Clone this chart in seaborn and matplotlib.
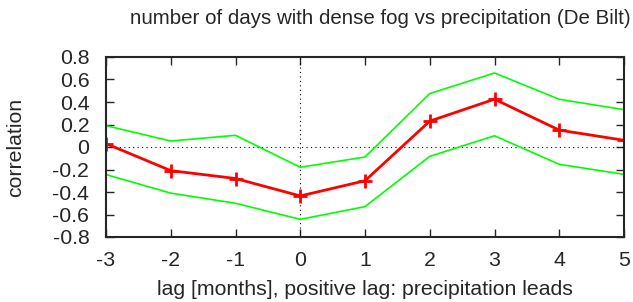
import numpy as np
import pandas as pd
import matplotlib
matplotlib.use('Agg')
import matplotlib.pyplot as plt
import seaborn as sns

lag = [-3, -2, -1, 0, 1, 2, 3, 4, 5]
corr = [0.03, -0.21, -0.28, -0.435, -0.30, 0.23, 0.425, 0.15, 0.06]
upper = [0.19, 0.053, 0.104, -0.18, -0.089, 0.475, 0.658, 0.424, 0.332]
lower = [-0.245, -0.41, -0.50, -0.643, -0.53, -0.083, 0.10, -0.154, -0.243]
ytick_labels = ['-0.8', '-0.6', '-0.4', '-0.2', '0', '0.2', '0.4', '0.6', '0.8']

df = pd.DataFrame({'lag': lag, 'corr': corr, 'upper': upper, 'lower': lower})

sns.set_style('ticks')
plt.rcParams['font.family'] = ['Liberation Sans', 'DejaVu Sans']
plt.rcParams['font.size'] = 15.3
plt.rcParams['axes.unicode_minus'] = False

fig = plt.figure(figsize=(6.33, 3.02), dpi=100)
ax = fig.add_axes([106 / 633, 1 - 237 / 302, (624 - 106) / 633, 180 / 302])

ax.axhline(0, color='black', lw=0.8, ls=(0, (1, 3)), zorder=1)
ax.axvline(0, color='black', lw=0.8, ls=(0, (1, 3)), zorder=1)
sns.lineplot(data=df, x='lag', y='upper', color='#00ff00', lw=1.2, ax=ax)
sns.lineplot(data=df, x='lag', y='lower', color='#00ff00', lw=1.2, ax=ax)
sns.lineplot(data=df, x='lag', y='corr', color='red', lw=2, marker='+',
             markersize=10, markeredgewidth=2, markeredgecolor='red', ax=ax)

ax.set_xlim(-3, 5)
ax.set_ylim(-0.8, 0.8)
ax.set_xticks(range(-3, 6))
ax.set_yticks(np.linspace(-0.8, 0.8, 9))
ax.set_yticklabels(ytick_labels)
ax.tick_params(direction='in', top=True, right=True, length=6, width=1)
ax.tick_params(axis='y', pad=12)
ax.tick_params(axis='x', pad=10)
for s in ax.spines.values():
    s.set_linewidth(1.5)
    s.set_visible(True)

ax.set_xlabel('lag [months], positive lag: precipitation leads', labelpad=7)
ax.set_ylabel('correlation', labelpad=20)
ax.set_title('number of days with dense fog vs precipitation (De Bilt)', pad=24,
             fontsize=14.8, x=(380 - 106) / (624 - 106))

fig.savefig('out.png', dpi=100)
